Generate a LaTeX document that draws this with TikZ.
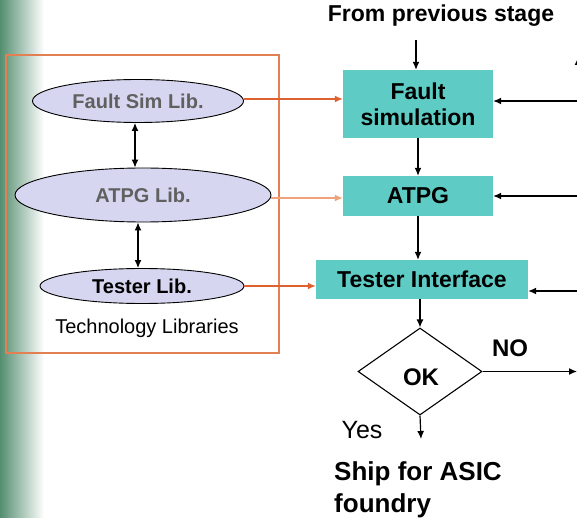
\documentclass[tikz,border=0pt]{standalone}
\usepackage{fontspec}
\setmainfont{Liberation Sans}
\usetikzlibrary{shapes.geometric,arrows.meta}
\definecolor{libfill}{RGB}{214,214,240}
\definecolor{stagefill}{RGB}{94,204,196}
\definecolor{libline}{RGB}{222,98,48}
\definecolor{libpale}{RGB}{242,162,122}
\definecolor{frameline}{RGB}{226,128,84}
\definecolor{sidegreen}{RGB}{84,142,112}
\definecolor{libtext}{RGB}{96,96,96}
\tikzset{
  tip/.style={-{Latex[length=8pt,width=7pt]}},
  libtip/.style={-{Latex[length=8pt,width=7pt]}, libline, line width=1.3pt},
  libellipse/.style={ellipse, draw=black, line width=0.9pt, fill=libfill, inner sep=0pt,
    font=\fontsize{20}{24}\selectfont\bfseries},
  stagebox/.style={rectangle, fill=stagefill, inner sep=0pt,
    font=\fontsize{23}{27}\selectfont\bfseries, align=center},
  flow/.style={line width=1.2pt, black},
}
\begin{document}
\begin{tikzpicture}[x=1pt, y=-1pt]
  \useasboundingbox (0,0) rectangle (577,518);
  \clip (0,0) rectangle (577,518);
  \fill[white] (0,0) rectangle (577,518);
  % slide edge shading
  \shade[left color=sidegreen, right color=white] (0,0) rectangle (44,518);

  % technology library frame
  \draw[frameline, line width=1.2pt] (6,55) rectangle (279,353);
  \node[font=\fontsize{20}{24}\selectfont] (techlab) at (147,328) {Technology Libraries};

  % library ellipses
  \node[libellipse, minimum width=211pt, minimum height=43pt, text=libtext] (fsl) at (138,101) {Fault Sim Lib.};
  \node[libellipse, minimum width=256pt, minimum height=54pt, text=libtext] (atl) at (143,195) {ATPG Lib.};
  \node[libellipse, minimum width=204pt, minimum height=35pt] (tsl) at (142,286) {Tester Lib.};

  \coordinate (ca) at (135,0);
  \coordinate (cb) at (138,0);
  \draw[flow, {Latex[length=8pt,width=7pt]}-{Latex[length=8pt,width=7pt]}] (fsl.south -| ca) -- (atl.north -| ca);
  \draw[flow, {Latex[length=8pt,width=7pt]}-{Latex[length=8pt,width=7pt]}] (atl.south -| cb) -- (tsl.north -| cb);

  % flow stages
  \node[font=\fontsize{23}{27}\selectfont\bfseries] (prev) at (441,16) {From previous stage};
  \node[stagebox, minimum width=150pt, minimum height=68pt] (fs) at (418,104) {Fault\\[-1pt]simulation};
  \node[stagebox, minimum width=150pt, minimum height=40pt] (atpg) at (418,196) {ATPG};
  \node[stagebox, minimum width=212pt, minimum height=39pt] (ti) at (422,279.5) {Tester Interface};
  \node[diamond, draw=black, line width=1.1pt, inner sep=0pt, minimum width=124pt, minimum height=87pt] (ok) at (420,371.5) {};
  \node[font=\fontsize{24}{28}\selectfont\bfseries] (oklab) at (421,377) {OK};

  \coordinate (prevend) at (416,40);
  \draw[flow, tip] (prevend) -- (prevend |- fs.north);
  \draw[flow, tip] (fs.south -| prevend) ++(2,0) coordinate (d1) -- (d1 |- atpg.north);
  \draw[flow, tip] (atpg.south) -- (atpg.south |- ti.north);
  \draw[flow, tip] (ti.south -| ok.north) -- (ok.north);

  % library links
  \draw[libtip] (fsl.east) ++(0,-2) coordinate (l1) -- (l1 -| fs.west);
  \draw[libtip, libpale] (atl.east) ++(0,3) coordinate (l2) -- (l2 -| atpg.west);
  \draw[libtip] (tsl.east) -- (tsl.east -| ti.west);

  % feedback lines from the right
  \coordinate (r1) at (578,101);
  \coordinate (r2) at (578,196);
  \coordinate (r3) at (578,291);
  \coordinate (rtop) at (578,57);
  \draw[flow, tip] (r1) -- (r1 -| fs.east);
  \draw[flow, tip] (r2) -- (r2 -| atpg.east);
  \draw[flow, tip] (r3) -- (r3 -| ti.east);
  \draw[flow, tip] (r3) -- (rtop);

  % decision outcomes
  \coordinate (noend) at (577,371.5);
  \draw[flow, tip] (ok.east) -- (noend);
  \node[font=\fontsize{24}{28}\selectfont\bfseries] (nolab) at (510,348) {NO};
  \coordinate (yesend) at (421,439);
  \draw[flow, tip] (ok.south) -- (yesend);
  \node[font=\fontsize{25}{29}\selectfont] (yeslab) at (362,430) {Yes};
  \node[font=\fontsize{26}{32}\selectfont\bfseries, align=left, anchor=north west, inner sep=0pt] (ship) at (334,461) {Ship for ASIC\\foundry};
\end{tikzpicture}
\end{document}
